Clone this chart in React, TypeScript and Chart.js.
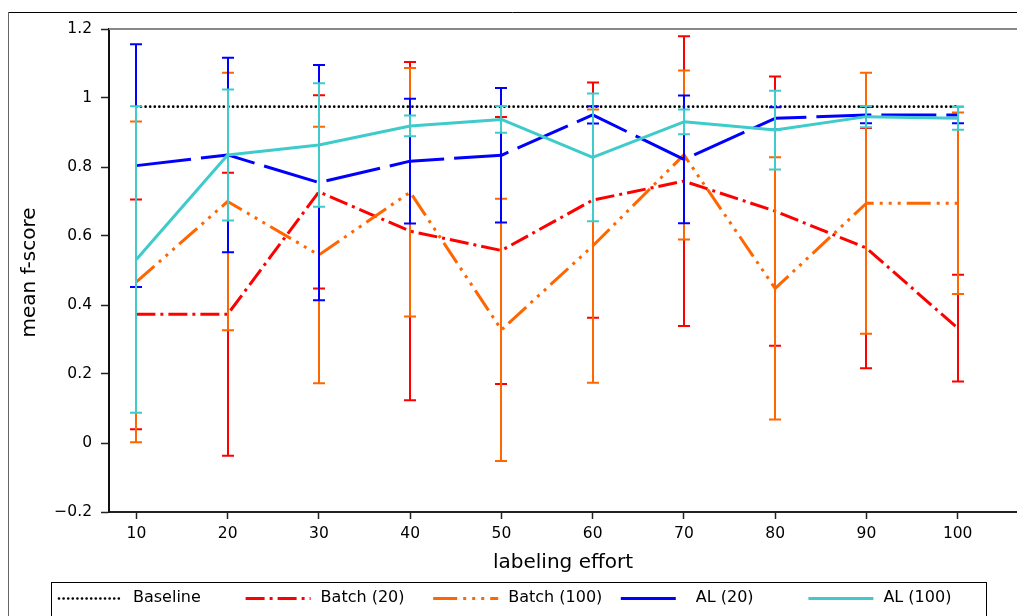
import React, { useEffect, useRef } from 'react';
import { Chart, registerables } from 'chart.js';

Chart.register(...registerables);

// ---- data ----
const efforts = [10, 20, 30, 40, 50, 60, 70, 80, 90, 100];
const baseline = [0.975, 0.975, 0.975, 0.975, 0.975, 0.975, 0.975, 0.975, 0.975, 0.975];
const batch20 = [0.373, 0.373, 0.728, 0.614, 0.558, 0.704, 0.759, 0.672, 0.565, 0.333];
const batch20Err = [0.333, 0.41, 0.28, 0.49, 0.387, 0.341, 0.42, 0.39, 0.348, 0.155];
const batch100 = [0.467, 0.7, 0.545, 0.727, 0.328, 0.571, 0.835, 0.448, 0.695, 0.695];
const batch100Err = [0.465, 0.373, 0.372, 0.36, 0.38, 0.396, 0.245, 0.38, 0.378, 0.263];
const al20 = [0.804, 0.835, 0.755, 0.817, 0.834, 0.951, 0.822, 0.941, 0.951, 0.951];
const al20Err = [0.352, 0.282, 0.341, 0.181, 0.195, 0.025, 0.185, 0.032, 0.024, 0.024];
const al100 = [0.532, 0.835, 0.864, 0.919, 0.938, 0.828, 0.931, 0.907, 0.946, 0.941];
const al100Err = [0.444, 0.19, 0.179, 0.03, 0.039, 0.185, 0.036, 0.114, 0.031, 0.033];

const yTicks = [-0.2, 0, 0.2, 0.4, 0.6, 0.8, 1, 1.2];
const yTickLabels = ['\u22120.2', '0', '0.2', '0.4', '0.6', '0.8', '1', '1.2'];
const xTitle = 'labeling effort';
const yTitle = 'mean f-score';

const seriesNames = ['Baseline', 'Batch (20)', 'Batch (100)', 'AL (20)', 'AL (100)'];
const seriesValues = [baseline, batch20, batch100, al20, al100];
const seriesErrors: (number[] | null)[] = [null, batch20Err, batch100Err, al20Err, al100Err];
const seriesColors = ['#000000', '#ff0000', '#ff6600', '#0000ff', '#3fcbcb'];
const seriesDashes = [[0.001, 4.6], [19, 5, 3, 5], [24, 6, 3, 6, 3, 6, 3, 6], [55, 10], []];
const seriesCaps = ['round', 'butt', 'butt', 'butt', 'butt'];
const seriesWidths = [2.7, 3, 3, 3, 3];

const FONT = 'DejaVu Sans';

const errorBarPlugin = {
  id: 'errorBars',
  afterDatasetDraw(chart: any, args: any) {
    const errs = seriesErrors[args.index];
    if (!errs) return;
    const vals = seriesValues[args.index];
    const ctx = chart.ctx;
    const xs = chart.scales.x;
    const ys = chart.scales.y;
    ctx.save();
    ctx.strokeStyle = seriesColors[args.index];
    ctx.lineWidth = 2;
    ctx.setLineDash([]);
    ctx.lineCap = 'butt';
    efforts.forEach((e, i) => {
      const px = Math.round(xs.getPixelForValue(e));
      const top = ys.getPixelForValue(vals[i] + errs[i]);
      const bot = ys.getPixelForValue(vals[i] - errs[i]);
      ctx.beginPath();
      ctx.moveTo(px, top);
      ctx.lineTo(px, bot);
      ctx.moveTo(px - 6, top);
      ctx.lineTo(px + 6, top);
      ctx.moveTo(px - 6, bot);
      ctx.lineTo(px + 6, bot);
      ctx.stroke();
    });
    ctx.restore();
  },
};

const decorPlugin = {
  id: 'decor',
  beforeDraw(chart: any) {
    const ctx = chart.ctx;
    ctx.save();
    ctx.fillStyle = '#ffffff';
    ctx.fillRect(0, 0, chart.width, chart.height);
    // outer frame
    ctx.lineWidth = 1;
    ctx.strokeStyle = '#000';
    ctx.beginPath();
    ctx.moveTo(8, 12.5);
    ctx.lineTo(chart.width, 12.5);
    ctx.stroke();
    ctx.strokeStyle = '#666';
    ctx.beginPath();
    ctx.moveTo(8.5, 12);
    ctx.lineTo(8.5, chart.height);
    ctx.stroke();
    ctx.restore();
  },
  afterDraw(chart: any) {
    const ctx = chart.ctx;
    const area = chart.chartArea;
    ctx.save();
    // top spine
    ctx.strokeStyle = '#888';
    ctx.lineWidth = 2;
    ctx.beginPath();
    ctx.moveTo(area.left, area.top);
    ctx.lineTo(area.right, area.top);
    ctx.stroke();

    // axis titles
    ctx.fillStyle = '#000';
    ctx.font = `20px "${FONT}"`;
    ctx.textAlign = 'center';
    ctx.textBaseline = 'alphabetic';
    ctx.fillText(xTitle, (area.left + area.right) / 2, 568);
    ctx.save();
    ctx.translate(35, (area.top + area.bottom) / 2 + 2);
    ctx.rotate(-Math.PI / 2);
    ctx.fillText(yTitle, 0, 0);
    ctx.restore();

    // legend
    ctx.lineWidth = 1;
    ctx.strokeStyle = '#000';
    ctx.strokeRect(51.5, 582.5, 935, 60);
    const y = 598.5;
    seriesNames.forEach((name, i) => {
      const x0 = 58 + i * 187.6;
      ctx.save();
      ctx.strokeStyle = seriesColors[i];
      ctx.lineWidth = seriesWidths[i];
      ctx.lineCap = seriesCaps[i];
      ctx.setLineDash(seriesDashes[i]);
      ctx.beginPath();
      ctx.moveTo(x0 + (i === 0 ? 1 : 0), y);
      ctx.lineTo(x0 + 65, y);
      ctx.stroke();
      ctx.restore();
      ctx.fillStyle = '#000';
      ctx.font = `16px "${FONT}"`;
      ctx.textAlign = 'left';
      ctx.textBaseline = 'middle';
      ctx.fillText(name, x0 + 75, 598);
    });
    ctx.restore();
  },
};

export default function App() {
  const ref = useRef<HTMLCanvasElement | null>(null);

  useEffect(() => {
    if (!ref.current) return;
    const datasets = seriesNames.map((name, i) => ({
      label: name,
      data: efforts.map((e, j) => ({ x: e, y: seriesValues[i][j] })),
      borderColor: seriesColors[i],
      backgroundColor: seriesColors[i],
      borderWidth: seriesWidths[i],
      borderDash: seriesDashes[i],
      borderCapStyle: seriesCaps[i] as any,
      borderJoinStyle: 'round' as const,
      pointRadius: 0,
      fill: false,
      tension: 0,
      order: seriesNames.length - i,
    }));

    const chart = new Chart(ref.current, {
      type: 'line',
      data: { datasets },
      plugins: [decorPlugin, errorBarPlugin],
      options: {
        animation: false,
        responsive: false,
        devicePixelRatio: 1,
        events: [],
        layout: { padding: { left: 0, top: 29, right: 0, bottom: 44 } },
        plugins: { legend: { display: false }, tooltip: { enabled: false } },
        scales: {
          x: {
            type: 'linear',
            min: 7,
            max: 106.5,
            afterBuildTicks: (s: any) => {
              s.ticks = efforts.map((v) => ({ value: v }));
            },
            afterFit: (s: any) => {
              s.height = 60;
            },
            ticks: {
              autoSkip: false,
              maxRotation: 0,
              padding: 6,
              color: '#000',
              font: { family: FONT, size: 15.5 },
              callback: (v: any) => String(v),
            },
            grid: {
              drawOnChartArea: false,
              drawTicks: true,
              tickLength: 7,
              tickWidth: 1.5,
              tickColor: '#222',
              color: '#222',
            },
            border: { display: true, color: '#222', width: 2 },
          },
          y: {
            type: 'linear',
            min: -0.2,
            max: 1.2,
            afterBuildTicks: (s: any) => {
              s.ticks = yTicks.map((v) => ({ value: v }));
            },
            afterFit: (s: any) => {
              s.width = 109;
            },
            ticks: {
              padding: 9,
              color: '#000',
              font: { family: FONT, size: 15.5 },
              callback: (v: any) => {
                const k = yTicks.findIndex((t) => Math.abs(t - v) < 1e-6);
                return k >= 0 ? yTickLabels[k] : '';
              },
            },
            grid: {
              drawOnChartArea: false,
              drawTicks: true,
              tickLength: 8,
              tickWidth: 1.5,
              tickColor: '#222',
              color: '#222',
            },
            border: { display: true, color: '#111', width: 2 },
          },
        },
      },
    });
    return () => chart.destroy();
  }, []);

  return (
    <div style={{ position: 'fixed', left: 0, top: 0, width: 1017, height: 616, overflow: 'hidden', background: '#fff' }}>
      <canvas ref={ref} width={1017} height={616} style={{ width: 1017, height: 616, display: 'block' }} />
    </div>
  );
}
